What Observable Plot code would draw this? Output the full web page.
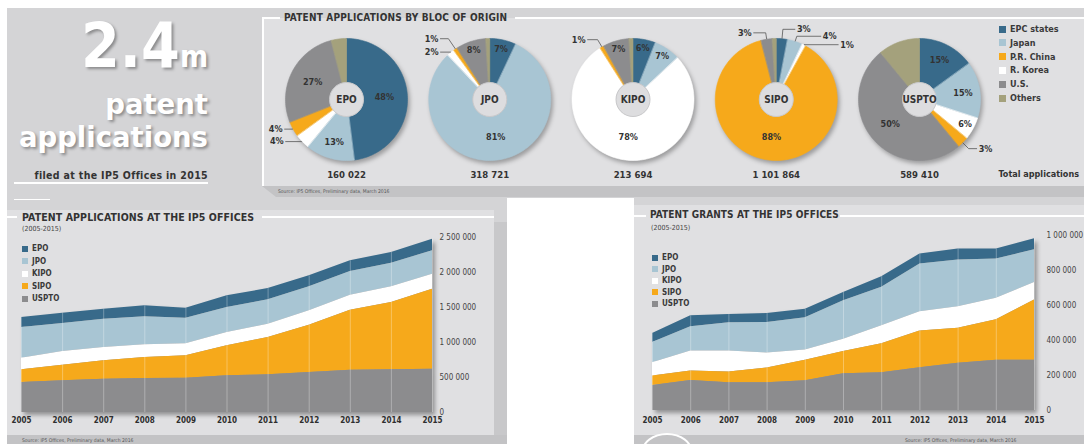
<!DOCTYPE html>
<html><head><meta charset="utf-8">
<script src="https://cdn.jsdelivr.net/npm/d3@7"></script>
<script src="https://cdn.jsdelivr.net/npm/@observablehq/plot@0.6"></script>
<style>
body{margin:0;width:1084px;height:444px;overflow:hidden;background:#fff;position:relative;font-family:"DejaVu Sans Condensed","DejaVu Sans",sans-serif;}
.a{position:absolute;}
.t{font-weight:bold;color:#333;white-space:nowrap;}
.leg{position:absolute;font-weight:bold;color:#3a3a3a;white-space:nowrap;display:flex;align-items:center;}
.leg i{display:inline-block;margin-right:4px;}
</style></head><body>
<script>
// ---------------- DATA ----------------
const years = [2005, 2006, 2007, 2008, 2009, 2010, 2011, 2012, 2013, 2014, 2015];
const offices = ["EPO", "JPO", "KIPO", "SIPO", "USPTO"];
// Patent applications (stack order bottom→top: USPTO, SIPO, KIPO, JPO, EPO)
const appEPO   = [143000, 148000, 143000, 157000, 142000, 167000, 161000, 157000, 153000, 153000, 166000];
const appJPO   = [438000, 400000, 404000, 400000, 367000, 357000, 348000, 343000, 338000, 338000, 334000];
const appKIPO  = [166000, 195000, 191000, 181000, 171000, 191000, 191000, 204000, 214000, 224000, 214000];
const appSIPO  = [181000, 224000, 262000, 300000, 320000, 428000, 533000, 677000, 857000, 961000, 1143000];
const appUSPTO = [429000, 452000, 476000, 486000, 490000, 524000, 538000, 571000, 605000, 610000, 619000];
// Patent grants
const grEPO   = [52000, 63000, 48000, 51000, 49000, 48000, 61000, 58000, 63000, 57000, 63000];
const grJPO   = [115000, 138000, 161000, 174000, 184000, 220000, 220000, 273000, 267000, 225000, 186000];
const grKIPO  = [76000, 114000, 120000, 86000, 59000, 70000, 102000, 109000, 123000, 123000, 101000];
const grSIPO  = [54000, 54000, 61000, 84000, 117000, 127000, 166000, 210000, 200000, 231000, 344000];
const grUSPTO = [143000, 172000, 159000, 159000, 170000, 210000, 216000, 245000, 270000, 287000, 287000];
const appTicks = [0, 500000, 1000000, 1500000, 2000000, 2500000];
const grTicks = [0, 200000, 400000, 600000, 800000, 1000000];
// Pies: applications by bloc of origin (slice order clockwise from 12 o'clock)
const pieOffices = ["EPO", "JPO", "KIPO", "SIPO", "USPTO"];
const pieTotals = ["160 022", "318 721", "213 694", "1 101 864", "589 410"];
const sliceBlocs = ["EPC states", "Japan", "R. Korea", "P.R. China", "U.S.", "Others"];
const legendBlocs = ["EPC states", "Japan", "P.R. China", "R. Korea", "U.S.", "Others"];
const shareEPO   = [48, 13, 4, 4, 27, 4];
const shareJPO   = [7, 81, 2, 1, 8, 1];
const shareKIPO  = [6, 7, 78, 1, 7, 1];
const shareSIPO  = [3, 4, 1, 88, 3, 1];
const shareUSPTO = [15, 15, 6, 3, 50, 11];

// ---------------- STYLE ----------------
const blocColor = {"EPC states":"#386a8a","Japan":"#a8c5d3","P.R. China":"#f6a91b","R. Korea":"#ffffff","U.S.":"#8c8c8e","Others":"#a4a17c"};
const officeColor = {"EPO":"#386a8a","JPO":"#a8c5d3","KIPO":"#ffffff","SIPO":"#f6a91b","USPTO":"#8c8c8e"};
const FONT = '"DejaVu Sans Condensed","DejaVu Sans",sans-serif';
const OUTER = "#d4d4d6", INNER = "#e0e0e2", STRIP = "#c3c3c5";

function box(l, t, w, h, css) {
  const d = document.createElement("div");
  d.className = "a";
  Object.assign(d.style, {left: l + "px", top: t + "px", width: w + "px", height: h + "px"}, css || {});
  document.body.appendChild(d);
  return d;
}
function txt(l, t, html, css) {
  const d = document.createElement("div");
  d.className = "a t";
  d.innerHTML = html;
  Object.assign(d.style, {left: l + "px", top: t + "px"}, css || {});
  document.body.appendChild(d);
  return d;
}

// ---------------- BACKGROUND ----------------
box(7, 8, 1077, 436, {background: OUTER});
box(507, 198, 127, 246, {background: "#fff"});
// pie panel
box(262, 18, 822, 168, {background: INNER});
box(262, 18, 2, 168, {background: "#fff"});
box(262, 17, 18, 2, {background: "#fff"});
box(515, 17, 569, 2, {background: "#fff"});
box(262, 186, 822, 11, {background: STRIP, clipPath: "polygon(0 0,100% 0,100% 100%,14px 100%)"});
txt(278, 188, "Source: IP5 Offices, Preliminary data, March 2016", {fontSize: "5px", fontWeight: "normal", color: "#555"});
// title block lines
box(14, 182, 194, 2, {background: "#fff"});
box(14, 199, 36, 1, {background: "#fff"});
// left chart panel
box(7, 210, 487, 225, {background: INNER});
box(494, 222, 13, 222, {background: "#c8c8ca"});
box(7, 216, 10, 2, {background: "#fff"});
box(262, 216, 232, 2, {background: "#fff"});
box(7, 435, 500, 9, {background: STRIP});
txt(22, 437, "Source: IP5 Offices, Preliminary data, March 2016", {fontSize: "5px", fontWeight: "normal", color: "#555"});
// right chart panel
box(634, 205, 450, 230, {background: INNER});
box(634, 215, 12, 2, {background: "#fff"});
box(840, 215, 244, 2, {background: "#fff"});
box(634, 435, 450, 9, {background: STRIP});
txt(905, 437, "Source: IP5 Offices, Preliminary data, March 2016", {fontSize: "5px", fontWeight: "normal", color: "#555"});
box(641, 433, 52, 40, {border: "2px solid #fff", borderRadius: "50%", boxSizing: "border-box"});

// ---------------- BIG TITLE ----------------
const bigCss = {color: "#fff", fontWeight: "bold", textAlign: "right", width: "208px", textShadow: "2px 2px 3px rgba(0,0,0,0.35)"};
txt(0, 15, '2.4<span style="font-size:30px">m</span>', Object.assign({}, bigCss, {fontSize: "62px", lineHeight: "1"}));
txt(0, 88, "patent<br>applications", Object.assign({}, bigCss, {fontFamily: '"DejaVu Sans",sans-serif', fontSize: "27.5px", lineHeight: "33px"}));
txt(0, 169, "filed at the IP5 Offices in 2015", {fontSize: "10.5px", letterSpacing: "0.35px", width: "208px", textAlign: "right", color: "#333"});

// ---------------- PIE TITLE + LEGEND ----------------
txt(284, 12, "PATENT APPLICATIONS BY BLOC OF ORIGIN", {fontSize: "10px", letterSpacing: "0.2px", color: "#333"});
legendBlocs.forEach((b, i) => {
  const d = document.createElement("div");
  d.className = "leg";
  d.style.left = "999px"; d.style.top = (24 + i * 13.8) + "px"; d.style.fontSize = "9px";
  d.innerHTML = `<i style="width:7px;height:7px;background:${blocColor[b]}"></i>${b}`;
  document.body.appendChild(d);
});

// ---------------- PIES ----------------
const pieShares = [shareEPO, shareJPO, shareKIPO, shareSIPO, shareUSPTO];
// label placement for thin slices drawn outside with a leader
const outside = [
  {pie: "EPO", bloc: "R. Korea", ext: 0, len: 16},
  {pie: "EPO", bloc: "P.R. China", ext: 0, len: 8},
  {pie: "JPO", bloc: "R. Korea", ext: 0, len: 10},
  {pie: "JPO", bloc: "P.R. China", ext: 12, len: 8},
  {pie: "KIPO", bloc: "P.R. China", ext: 8, len: 10},
  {pie: "SIPO", bloc: "U.S.", ext: 6, len: 12},
  {pie: "SIPO", bloc: "EPC states", ext: 9, len: 12},
  {pie: "SIPO", bloc: "Japan", ext: 5, len: 24},
  {pie: "SIPO", bloc: "R. Korea", ext: 0, len: 34},
  {pie: "USPTO", bloc: "P.R. China", ext: 8, len: 8}
];
const R = 61, R0 = 17, CY = 79;
const cxOf = i => 84 + i * 143.25;
const pts = [], centers = [], inLab = [], outL = [], outR = [], leaders = [];
pieShares.forEach((shares, i) => {
  const cx = cxOf(i);
  centers.push({cx, cy: CY, office: pieOffices[i], total: pieTotals[i]});
  let acc = 0;
  shares.forEach((s, j) => {
    const bloc = sliceBlocs[j];
    const a0 = acc / 100 * 2 * Math.PI, a1 = (acc + s) / 100 * 2 * Math.PI;
    acc += s;
    const key = pieOffices[i] + "|" + bloc;
    const n = Math.max(3, Math.ceil(s * 2));
    for (let k = 0; k <= n; k++) { const a = a0 + (a1 - a0) * k / n; pts.push({key, bloc, x: cx + R * Math.sin(a), y: CY - R * Math.cos(a)}); }
    for (let k = n; k >= 0; k--) { const a = a0 + (a1 - a0) * k / n; pts.push({key, bloc, x: cx + R0 * Math.sin(a), y: CY - R0 * Math.cos(a)}); }
    if (bloc === "Others") return;
    const am = (a0 + a1) / 2;
    const sx = Math.sin(am), sy = -Math.cos(am);
    const o = outside.find(d => d.pie === pieOffices[i] && d.bloc === bloc);
    const label = s + "%";
    if (o) {
      const ax = cx + (R + 0.5) * sx, ay = CY + (R + 0.5) * sy;
      const ex = ax + o.ext * sx, ey = ay + o.ext * sy;
      const dir = sx < 0 ? -1 : 1;
      const tx = ex + dir * o.len;
      leaders.push({key, x: ax, y: ay}, {key, x: ex, y: ey}, {key, x: tx, y: ey});
      (dir < 0 ? outL : outR).push({x: tx + dir * 2, y: ey, label});
    } else {
      const rr = s >= 20 ? 38 : s >= 10 ? 44 : 52;
      inLab.push({x: cx + rr * sx, y: CY + rr * sy, label});
    }
  });
});

const pieChart = Plot.plot({
  width: 822, height: 170, margin: 0,
  x: {domain: [0, 822], range: [0, 822], axis: null},
  y: {domain: [0, 170], range: [0, 170], axis: null},
  color: {domain: legendBlocs, range: legendBlocs.map(b => blocColor[b])},
  style: {background: "transparent", overflow: "visible", fontFamily: FONT},
  marks: [
    Plot.line(pts, {x: "x", y: "y", z: "key", fill: "bloc", stroke: "bloc", strokeWidth: 0.6, curve: "linear-closed"}),
    Plot.dot(centers, {x: "cx", y: "cy", r: R0, fill: "#dddddf", stroke: "#c9c9cb", strokeWidth: 1}),
    Plot.text(centers, {x: "cx", y: "cy", text: "office", fontSize: 10, fontWeight: "bold", fill: "#333"}),
    Plot.text(centers, {x: "cx", y: d => d.cy + 75, text: "total", fontSize: 9.5, fontWeight: "bold", fill: "#333"}),
    Plot.text(inLab, {x: "x", y: "y", text: "label", fontSize: 9, fontWeight: "bold", fill: "#333"}),
    Plot.line(leaders, {x: "x", y: "y", z: "key", stroke: "#555", strokeWidth: 0.8}),
    Plot.text(outL, {x: "x", y: "y", text: "label", textAnchor: "end", fontSize: 9, fontWeight: "bold", fill: "#333"}),
    Plot.text(outR, {x: "x", y: "y", text: "label", textAnchor: "start", fontSize: 9, fontWeight: "bold", fill: "#333"}),
    Plot.text(["Total applications"], {x: 736, y: CY + 75, text: d => d, textAnchor: "start", fontSize: 9, fontWeight: "bold", fill: "#333"})
  ]
});
const pieLine = pieChart.querySelector('g[aria-label="line"]');
if (pieLine) pieLine.style.filter = "drop-shadow(2px 3px 2px rgba(0,0,0,0.3))";
const pieDiv = box(262, 20, 822, 170);
pieDiv.appendChild(pieChart);

// ---------------- AREA CHARTS ----------------
const fmt = d => d3.format(",")(d).replace(/,/g, " ");
function tidy(series) {
  const rows = [];
  offices.forEach((o, k) => years.forEach((y, i) => rows.push({year: y, office: o, value: series[k][i]})));
  return rows;
}
function areaChart(opts) {
  const {series, ticks, left, top, width, height, mL, mR, mT, mB, xPad, yPad} = opts;
  const totals = years.map((y, i) => d3.sum(series, s => s[i]));
  const chart = Plot.plot({
    width, height, marginLeft: mL, marginRight: mR, marginTop: mT, marginBottom: mB,
    x: {domain: [2005, 2015]},
    y: {domain: [0, ticks[ticks.length - 1]]},
    color: {domain: offices, range: offices.map(o => officeColor[o])},
    style: {background: "transparent", overflow: "visible", fontFamily: FONT, fontSize: "8px", color: "#333"},
    marks: [
      Plot.areaY(tidy(series), {x: "year", y: "value", fill: "office", order: ["USPTO", "SIPO", "KIPO", "JPO", "EPO"]}),
      Plot.ruleX(years, {x: d => d, y1: 0, y2: (d, i) => totals[i], stroke: "#fff", strokeOpacity: 0.3, strokeWidth: 1}),
      Plot.axisX({ticks: years, tickFormat: "d", tickSize: 0, tickPadding: xPad, fontWeight: "bold", fill: "#2e2e2e", label: null}),
      Plot.axisY({anchor: "right", ticks, tickFormat: fmt, tickSize: 0, tickPadding: yPad, fill: "#444", label: null})
    ]
  });
  const g = chart.querySelector('g[aria-label="area"]');
  if (g) g.style.filter = "drop-shadow(3px 3px 2px rgba(0,0,0,0.35))";
  const d = box(left, top, width, height);
  d.appendChild(chart);
}
areaChart({series: [appEPO, appJPO, appKIPO, appSIPO, appUSPTO], ticks: appTicks,
  left: 0, top: 225, width: 490, height: 205, mL: 21, mR: 58, mT: 12, mB: 18, xPad: 5, yPad: 7});
areaChart({series: [grEPO, grJPO, grKIPO, grSIPO, grUSPTO], ticks: grTicks,
  left: 630, top: 225, width: 454, height: 205, mL: 22, mR: 50, mT: 10, mB: 20, xPad: 7, yPad: 12});

// titles and legends for area charts
txt(22, 211, "PATENT APPLICATIONS AT THE IP5 OFFICES", {fontSize: "10.5px", letterSpacing: "0.1px"});
txt(22, 225, "(2005-2015)", {fontSize: "7px", fontWeight: "normal", color: "#444"});
txt(650, 209, "PATENT GRANTS AT THE IP5 OFFICES", {fontSize: "10px", letterSpacing: "0.1px"});
txt(651, 224, "(2005-2015)", {fontSize: "7px", fontWeight: "normal", color: "#444"});
function areaLegend(left, top, step) {
  offices.forEach((o, i) => {
    const d = document.createElement("div");
    d.className = "leg";
    d.style.left = left + "px"; d.style.top = (top + i * step) + "px"; d.style.fontSize = "8px";
    d.innerHTML = `<i style="width:6px;height:6px;background:${officeColor[o]}"></i>${o}`;
    document.body.appendChild(d);
  });
}
areaLegend(22, 244, 12.5);
areaLegend(652, 253, 11.6);
</script>
</body></html>
